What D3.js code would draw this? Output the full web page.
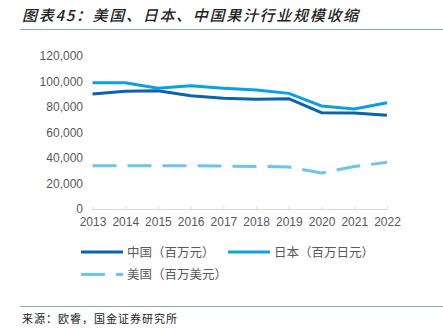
<!DOCTYPE html>
<meta charset="utf-8">
<style>
body { margin: 0; background: #fff; font-family: "Liberation Sans", Arial, sans-serif; }
.tick text { fill: #595959; font-size: 12px; font-family: "Liberation Sans", Arial, sans-serif; }
.cn { font-family: "Noto Sans CJK SC", sans-serif; }
</style>
<body>
<script src="https://cdn.jsdelivr.net/npm/d3@7"></script>
<script>
// data
var years = [2013, 2014, 2015, 2016, 2017, 2018, 2019, 2020, 2021, 2022];
var china = [90200, 92300, 92800, 88900, 86800, 86000, 86500, 75500, 75300, 73500];
var japan = [99000, 99000, 94700, 96700, 94700, 93300, 90700, 80800, 78400, 83300];
var usa = [34000, 34000, 34000, 34000, 33700, 33400, 33000, 28200, 33300, 36600];
var yTicks = [0, 20000, 40000, 60000, 80000, 100000, 120000];

var series = [
  {name: "中国（百万元）", values: china, color: "#0b63ad", dash: null},
  {name: "日本（百万日元）", values: japan, color: "#0aa0e6", dash: null},
  {name: "美国（百万美元）", values: usa, color: "#6cc4f2", dash: "24,11"}
];

var W = 443, H = 328;
var svg = d3.select("body").append("svg")
    .attr("width", W)
    .attr("height", H);

// title + rule
svg.append("text")
    .attr("class", "cn")
    .attr("x", 22).attr("y", 21)
    .style("font-size", "15px")
    .style("font-style", "italic")
    .style("font-weight", "500")
    .style("letter-spacing", "1.7px")
    .style("fill", "#222")
    .text("图表45：美国、日本、中国果汁行业规模收缩");
svg.append("line")
    .attr("x1", 20).attr("x2", W).attr("y1", 29.5).attr("y2", 29.5)
    .style("stroke", "#7fa8b8").style("stroke-width", 1);

var x = d3.scalePoint().domain(years).range([92.5, 387]);
var y = d3.scaleLinear().domain([0, 120000]).range([209, 56]);

// y axis labels only
var yAxis = svg.append("g")
    .attr("transform", "translate(83,0)")
    .call(d3.axisLeft(y).tickValues(yTicks).tickSize(0).tickPadding(0).tickFormat(d3.format(",")));
yAxis.select(".domain").remove();

// x axis with upward ticks
var xAxis = svg.append("g")
    .attr("transform", "translate(0,209.5)")
    .call(d3.axisBottom(x).tickSize(-3).tickPadding(8).tickSizeOuter(0));
xAxis.select(".domain").attr("d", "M" + x(2013) + ",0H" + x(2022)).style("stroke", "#d9d9d9");
xAxis.selectAll(".tick line").style("stroke", "#d9d9d9");

var line = d3.line()
    .x(function(d, i) { return x(years[i]); })
    .y(function(d) { return y(d); });

svg.selectAll(".series")
    .data(series)
  .enter().append("path")
    .attr("class", "series")
    .attr("d", function(d) { return line(d.values); })
    .style("fill", "none")
    .style("stroke", function(d) { return d.color; })
    .style("stroke-width", 3)
    .style("stroke-dasharray", function(d) { return d.dash; });

// legend
var legPos = [[81, 252], [228, 252], [81, 274.5]];
var leg = svg.selectAll(".leg")
    .data(series)
  .enter().append("g")
    .attr("class", "leg")
    .attr("transform", function(d, i) { return "translate(" + legPos[i][0] + "," + legPos[i][1] + ")"; });
leg.append("line")
    .attr("x1", 0).attr("x2", 42)
    .style("stroke", function(d) { return d.color; })
    .style("stroke-width", 3)
    .style("stroke-dasharray", function(d) { return d.dash; });
leg.append("text")
    .attr("class", "cn")
    .attr("x", 46).attr("y", 4.5)
    .style("font-size", "12.5px")
    .style("fill", "#595959")
    .text(function(d) { return d.name; });

// source
svg.append("line")
    .attr("x1", 20).attr("x2", W).attr("y1", 306.5).attr("y2", 306.5)
    .style("stroke", "#8fa4b4").style("stroke-width", 1);
svg.append("text")
    .attr("class", "cn")
    .attr("x", 22).attr("y", 323)
    .style("font-size", "11px")
    .style("letter-spacing", "1px")
    .style("fill", "#222")
    .text("来源：欧睿，国金证券研究所");
</script>
</body>
